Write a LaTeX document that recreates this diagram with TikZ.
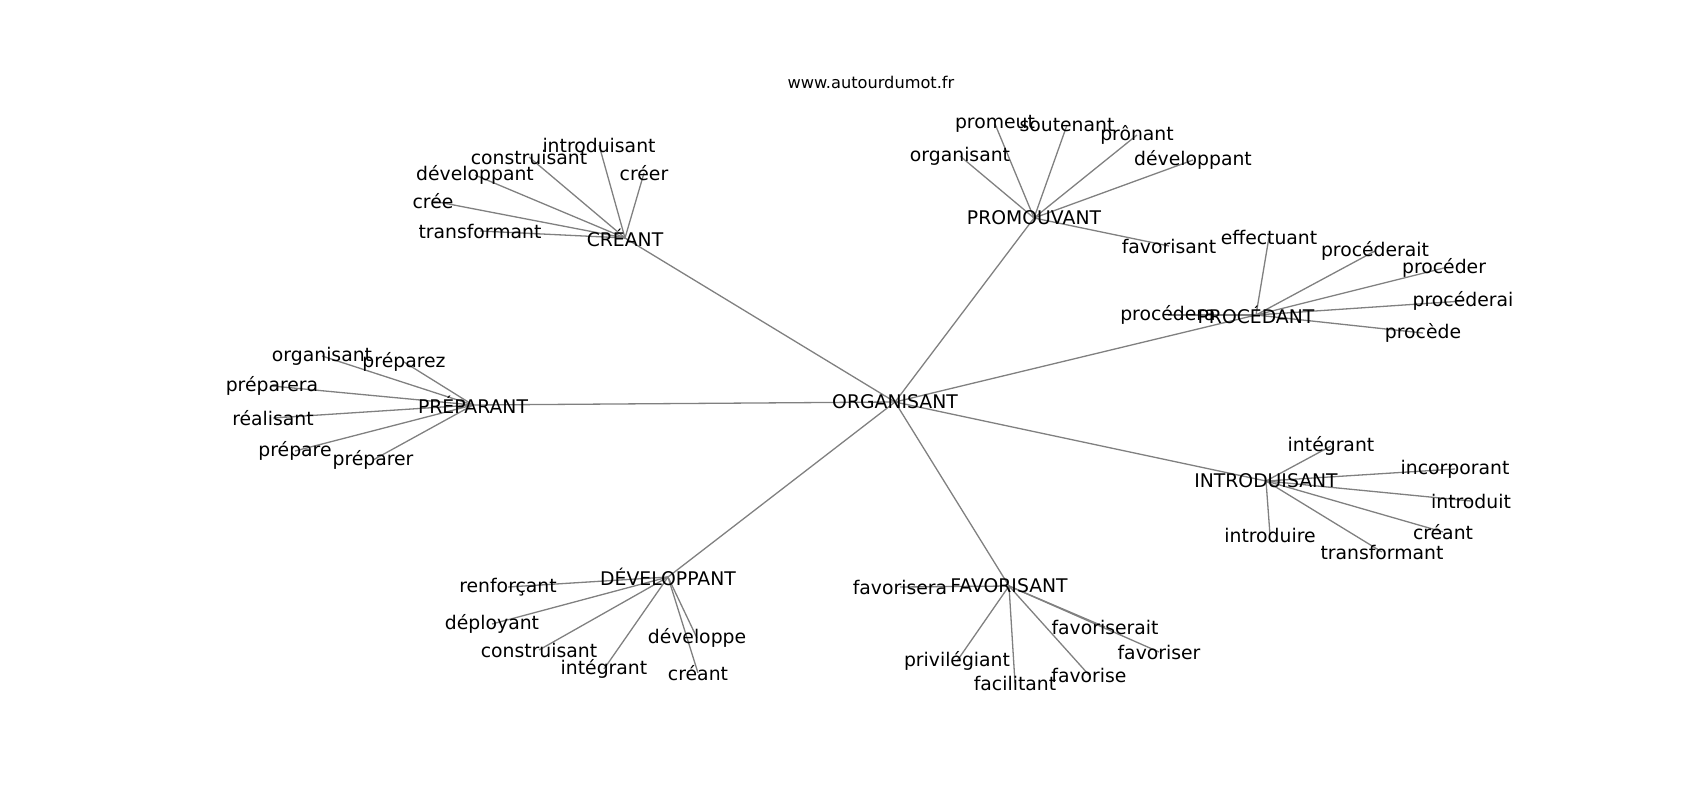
\documentclass[tikz,border=0pt]{standalone}
\usepackage{fontspec}
\setmainfont{DejaVu Sans}
\usetikzlibrary{backgrounds}
\begin{document}
\begin{tikzpicture}[x=1pt,y=-1pt,
  word/.style={font=\fontsize{18.8}{20}\selectfont, inner sep=0pt},
  site/.style={font=\fontsize{16.2}{18}\selectfont, inner sep=0pt},
  link/.style={draw=gray, line width=1.3pt}]
\useasboundingbox (0,0) rectangle (1700,800);
\node[site] (site) at (871,82) {www.autourdumot.fr};
%%% centre
\node[word] (org) at (895,402) {ORGANISANT};
%%% the seven hubs
\node[word] (crea) at (625,238) {CRÉANT};
\node[word] (prom) at (1034,218) {PROMOUVANT};
\node[word] (proc) at (1256,315) {PROCÉDANT};
\node[word] (prep) at (473,405) {PRÉPARANT};
\node[word] (intr) at (1266,481) {INTRODUISANT};
\node[word] (dev) at (668,577) {DÉVELOPPANT};
\node[word] (fav) at (1009,586) {FAVORISANT};
% around CRÉANT
\node[word] (crea1) at (599,145) {introduisant};
\node[word] (crea2) at (529,157) {construisant};
\node[word] (crea3) at (644,173) {créer};
\node[word] (crea4) at (475,175) {développant};
\node[word] (crea5) at (433,201) {crée};
\node[word] (crea6) at (480,231) {transformant};
% around PROMOUVANT
\node[word] (prom1) at (995,124) {promeut};
\node[word] (prom2) at (1067,125) {soutenant};
\node[word] (prom3) at (1137,135) {prônant};
\node[word] (prom4) at (960,156) {organisant};
\node[word] (prom5) at (1193,160) {développant};
\node[word] (prom6) at (1169,246) {favorisant};
% around PROCÉDANT
\node[word] (proc1) at (1269,237) {effectuant};
\node[word] (proc2) at (1375,251) {procéderait};
\node[word] (proc3) at (1444,268) {procéder};
\node[word] (proc4) at (1463,301) {procéderai};
\node[word] (proc5) at (1423,333) {procède};
\node[word] (proc6) at (1168,315) {procédera};
% around PRÉPARANT
\node[word] (prep1) at (322,356) {organisant};
\node[word] (prep2) at (404,362) {préparez};
\node[word] (prep3) at (272,386) {préparera};
\node[word] (prep4) at (273,418) {réalisant};
\node[word] (prep5) at (295,451) {prépare};
\node[word] (prep6) at (373,460) {préparer};
% around INTRODUISANT
\node[word] (intr1) at (1331,446) {intégrant};
\node[word] (intr2) at (1455,469) {incorporant};
\node[word] (intr3) at (1471,501) {introduit};
\node[word] (intr4) at (1443,532) {créant};
\node[word] (intr5) at (1270,535) {introduire};
\node[word] (intr6) at (1382,552) {transformant};
% around DÉVELOPPANT
\node[word] (dev1) at (508,587) {renforçant};
\node[word] (dev2) at (492,624) {déployant};
\node[word] (dev3) at (539,650) {construisant};
\node[word] (dev4) at (604,669) {intégrant};
\node[word] (dev5) at (697,638) {développe};
\node[word] (dev6) at (698,673) {créant};
% around FAVORISANT
\node[word] (fav1) at (900,587) {favorisera};
\node[word] (fav2) at (1105,627) {favoriserait};
\node[word] (fav3) at (1159,652) {favoriser};
\node[word] (fav4) at (957,661) {privilégiant};
\node[word] (fav5) at (1015,683) {facilitant};
\node[word] (fav6) at (1089,675) {favorise};
\begin{pgfonlayer}{background}
\draw[link] (org.center) -- (crea.center);
\draw[link] (org.center) -- (prom.center);
\draw[link] (org.center) -- (proc.center);
\draw[link] (org.center) -- (prep.center);
\draw[link] (org.center) -- (intr.center);
\draw[link] (org.center) -- (dev.center);
\draw[link] (org.center) -- (fav.center);
%
\draw[link] (crea.center) -- (crea1.center);
\draw[link] (crea.center) -- (crea2.center);
\draw[link] (crea.center) -- (crea3.center);
\draw[link] (crea.center) -- (crea4.center);
\draw[link] (crea.center) -- (crea5.center);
\draw[link] (crea.center) -- (crea6.center);
%
\draw[link] (prom.center) -- (prom1.center);
\draw[link] (prom.center) -- (prom2.center);
\draw[link] (prom.center) -- (prom3.center);
\draw[link] (prom.center) -- (prom4.center);
\draw[link] (prom.center) -- (prom5.center);
\draw[link] (prom.center) -- (prom6.center);
%
\draw[link] (proc.center) -- (proc1.center);
\draw[link] (proc.center) -- (proc2.center);
\draw[link] (proc.center) -- (proc3.center);
\draw[link] (proc.center) -- (proc4.center);
\draw[link] (proc.center) -- (proc5.center);
\draw[link] (proc.center) -- (proc6.center);
%
\draw[link] (prep.center) -- (prep1.center);
\draw[link] (prep.center) -- (prep2.center);
\draw[link] (prep.center) -- (prep3.center);
\draw[link] (prep.center) -- (prep4.center);
\draw[link] (prep.center) -- (prep5.center);
\draw[link] (prep.center) -- (prep6.center);
%
\draw[link] (intr.center) -- (intr1.center);
\draw[link] (intr.center) -- (intr2.center);
\draw[link] (intr.center) -- (intr3.center);
\draw[link] (intr.center) -- (intr4.center);
\draw[link] (intr.center) -- (intr5.center);
\draw[link] (intr.center) -- (intr6.center);
%
\draw[link] (dev.center) -- (dev1.center);
\draw[link] (dev.center) -- (dev2.center);
\draw[link] (dev.center) -- (dev3.center);
\draw[link] (dev.center) -- (dev4.center);
\draw[link] (dev.center) -- (dev5.center);
\draw[link] (dev.center) -- (dev6.center);
%
\draw[link] (fav.center) -- (fav1.center);
\draw[link] (fav.center) -- (fav2.center);
\draw[link] (fav.center) -- (fav3.center);
\draw[link] (fav.center) -- (fav4.center);
\draw[link] (fav.center) -- (fav5.center);
\draw[link] (fav.center) -- (fav6.center);
\end{pgfonlayer}
\end{tikzpicture}
\end{document}
